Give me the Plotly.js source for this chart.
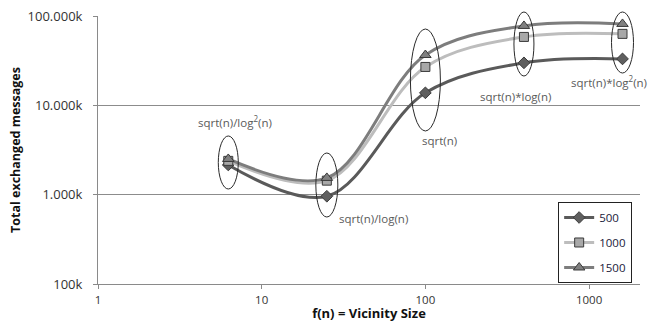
<!DOCTYPE html>
<html><head><meta charset="utf-8">
<script src="https://cdn.plot.ly/plotly-3.0.1.min.js"></script>
<style>html,body{margin:0;padding:0;background:#fff}#chart{width:654px;height:322px}</style>
</head><body><div id="chart"></div>
<script>
// Data (vicinity size vs total exchanged messages, in k)
const vicinitySize = [6.25, 25, 100, 400, 1600];
const vicinityLabels = ["sqrt(n)/log<sup>2</sup>(n)", "sqrt(n)/log(n)", "sqrt(n)", "sqrt(n)*log(n)", "sqrt(n)*log<sup>2</sup>(n)"];
const seriesNames = ["500", "1000", "1500"];
const msgs500  = [2150, 960, 13800, 29900, 33100];
const msgs1000 = [2390, 1435, 26900, 58300, 63100];
const msgs1500 = [2510, 1540, 36600, 77400, 81500];
const yTickVals = [100, 1000, 10000, 100000];
const yTickText = ["100k", "1.000k", "10.000k", "100.000k"];
const xTickVals = [1, 10, 100, 1000];
const xTickText = ["1", "10", "100", "1000"];

const FONT = "Open Sans, Liberation Sans, sans-serif";
const X_RANGE = [0, 3.311];
const styles = [
  {line: "#5a5a5a", fill: "#5f5f5f", symbol: "diamond", size: 9},
  {line: "#bdbdbd", fill: "#a8a8a8", symbol: "square", size: 9},
  {line: "#7d7d7d", fill: "#808080", symbol: "triangle-up", size: 10}
];
const seriesVals = [msgs500, msgs1000, msgs1500];
const traces = seriesVals.map((vals, i) => ({
  type: "scatter", mode: "lines+markers", name: seriesNames[i], legendgroup: "g" + i,
  x: vicinitySize, y: vals,
  line: {color: styles[i].line, width: 3, shape: "spline", smoothing: 1},
  marker: {symbol: styles[i].symbol, size: styles[i].size, color: styles[i].fill, line: {color: "#3a3a3a", width: 1}}
}));

// label placement (pixel offsets / paper y)
const labelPos = [
  {dx: 7, y: 0.608}, {dx: 47, y: 0.246}, {dx: 14, y: 0.537}, {dx: -8, y: 0.698}, {dx: -14, y: 0.757}
];
const annotations = vicinityLabels.map((t, i) => ({
  text: t, xref: "x", yref: "paper", x: Math.log10(vicinitySize[i]), y: labelPos[i].y,
  xshift: labelPos[i].dx, showarrow: false, xanchor: "center", yanchor: "middle",
  font: {family: FONT, size: 11.5, color: "#5a5a5a"}
}));
const toPaperX = v => (Math.log10(v) - X_RANGE[0]) / (X_RANGE[1] - X_RANGE[0]);
const ellipse = [
  {w: 20, h: 53, y: 0.4534}, {w: 22, h: 64, y: 0.3694}, {w: 30, h: 102, y: 0.7612},
  {w: 20, h: 64, y: 0.8955}, {w: 22, h: 61, y: 0.9011}
];
const shapes = ellipse.map((e, i) => ({
  type: "circle", xref: "paper", yref: "paper", xsizemode: "pixel", ysizemode: "pixel",
  xanchor: toPaperX(vicinitySize[i]), yanchor: e.y,
  x0: -e.w/2, x1: e.w/2, y0: -e.h/2, y1: e.h/2,
  line: {color: "#2a2a2a", width: 1}
}));

const layout = {
  width: 654, height: 322,
  margin: {l: 98, r: 14, t: 16, b: 38},
  paper_bgcolor: "#fff", plot_bgcolor: "#fff",
  font: {family: FONT, size: 11, color: "#333"},
  showlegend: true,
  legend: {x: 0.849, y: 0.306, xanchor: "left", yanchor: "top", bgcolor: "#fff",
    bordercolor: "#222", borderwidth: 1, font: {family: FONT, size: 11.5, color: "#1a1a3a"},
    itemwidth: 30, traceorder: "grouped", tracegroupgap: 6},
  xaxis: {type: "log", range: X_RANGE, tickvals: xTickVals, ticktext: xTickText,
    showgrid: false, zeroline: false, showline: true, linecolor: "#8a8a8a", linewidth: 1,
    ticks: "outside", ticklen: 4, tickcolor: "#8a8a8a", ticklabelstandoff: 1,
    tickfont: {family: FONT, size: 11.5, color: "#333"},
    title: {text: "<b>f(n) = Vicinity Size</b>", font: {family: FONT, size: 13, color: "#111"}, standoff: 5}},
  yaxis: {type: "log", range: [2, 5], tickvals: yTickVals, ticktext: yTickText,
    showgrid: true, gridcolor: "#8c8c8c", gridwidth: 1, zeroline: false,
    showline: true, linecolor: "#8a8a8a", linewidth: 1,
    ticks: "outside", ticklen: 4, tickcolor: "#8a8a8a", ticklabelstandoff: 8,
    tickfont: {family: FONT, size: 13, color: "#333"},
    title: {text: "<b>Total exchanged messages</b>", font: {family: FONT, size: 12.5, color: "#111"}, standoff: 4}},
  annotations: annotations,
  shapes: shapes
};
Plotly.newPlot("chart", traces, layout, {displayModeBar: false, staticPlot: true});
</script></body></html>
